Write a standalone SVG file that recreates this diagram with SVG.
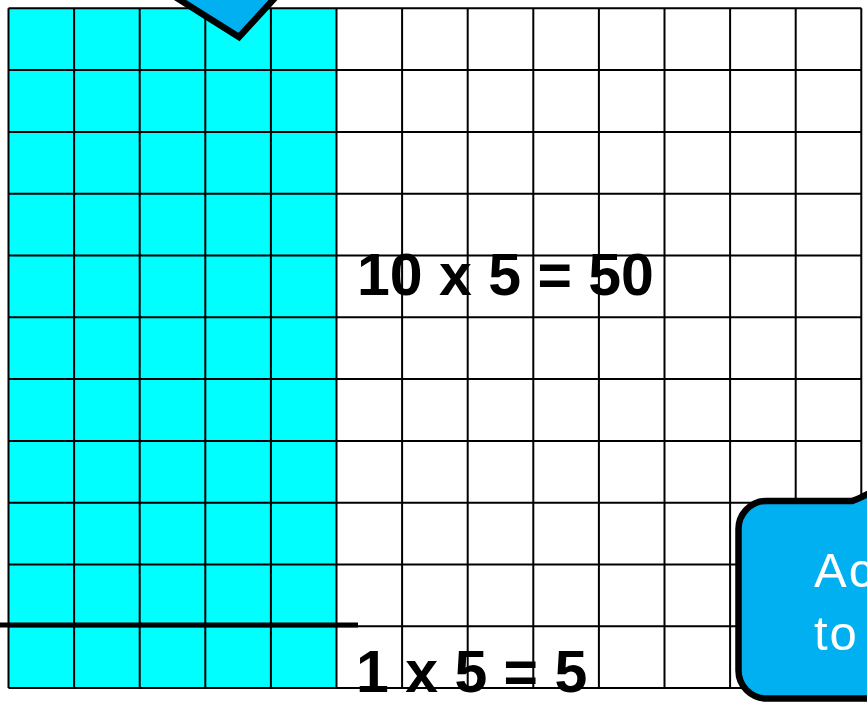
<svg xmlns="http://www.w3.org/2000/svg" width="867" height="703" viewBox="0 0 867 703">
<style>
.g{stroke:#000;stroke-width:2;fill:none}
.eq{font-family:"Liberation Sans",Arial,sans-serif;font-weight:bold;font-size:59px;fill:#000}
.bub{fill:#00B0F0;stroke:#000;stroke-width:6.5;stroke-linejoin:miter}
.bt{font-family:"Liberation Sans",Arial,sans-serif;font-size:49px;fill:#fff}
</style>
<rect width="867" height="703" fill="#fff"/>
<g id="grid">
<rect x="8.5" y="8.3" width="328" height="679.8" fill="#00FFFF"/>
<path class="g" d="M8.5 8.3V688.1M74.1 8.3V688.1M139.7 8.3V688.1M205.3 8.3V688.1M270.9 8.3V688.1M336.5 8.3V688.1M402.1 8.3V688.1M467.7 8.3V688.1M533.3 8.3V688.1M598.9 8.3V688.1M664.5 8.3V688.1M730.1 8.3V688.1M795.7 8.3V688.1M861.3 8.3V688.1"/>
<path class="g" d="M8.5 8.3H861.3M8.5 70.1H861.3M8.5 131.9H861.3M8.5 193.7H861.3M8.5 255.5H861.3M8.5 317.3H861.3M8.5 379.1H861.3M8.5 440.9H861.3M8.5 502.7H861.3M8.5 564.5H861.3M8.5 626.3H861.3M8.5 688.1H861.3"/>
</g>
<g id="divider">
<line x1="0" y1="625" x2="358" y2="625" stroke="#000" stroke-width="5"/>
</g>
<g id="label-50">
<text class="eq" x="357" y="295">10 x 5 = 50</text>
</g>
<g id="label-5">
<text class="eq" x="356" y="692">1 x 5 = 5</text>
</g>
<g id="callout-top">
<path class="bub" d="M161 -12 L239 37 L284 -12 Z"/>
</g>
<g id="callout-bottom">
<path class="bub" d="M852 501 Q858 500 892 481 L892 698.5 L766.5 698.5 A28 28 0 0 1 738.5 670.5 L738.5 529 A28 28 0 0 1 766.5 501 Z"/>
<text class="bt" x="814" y="587" letter-spacing="2">Ac</text>
<text class="bt" x="814" y="650" letter-spacing="2">to</text>
</g>
</svg>
